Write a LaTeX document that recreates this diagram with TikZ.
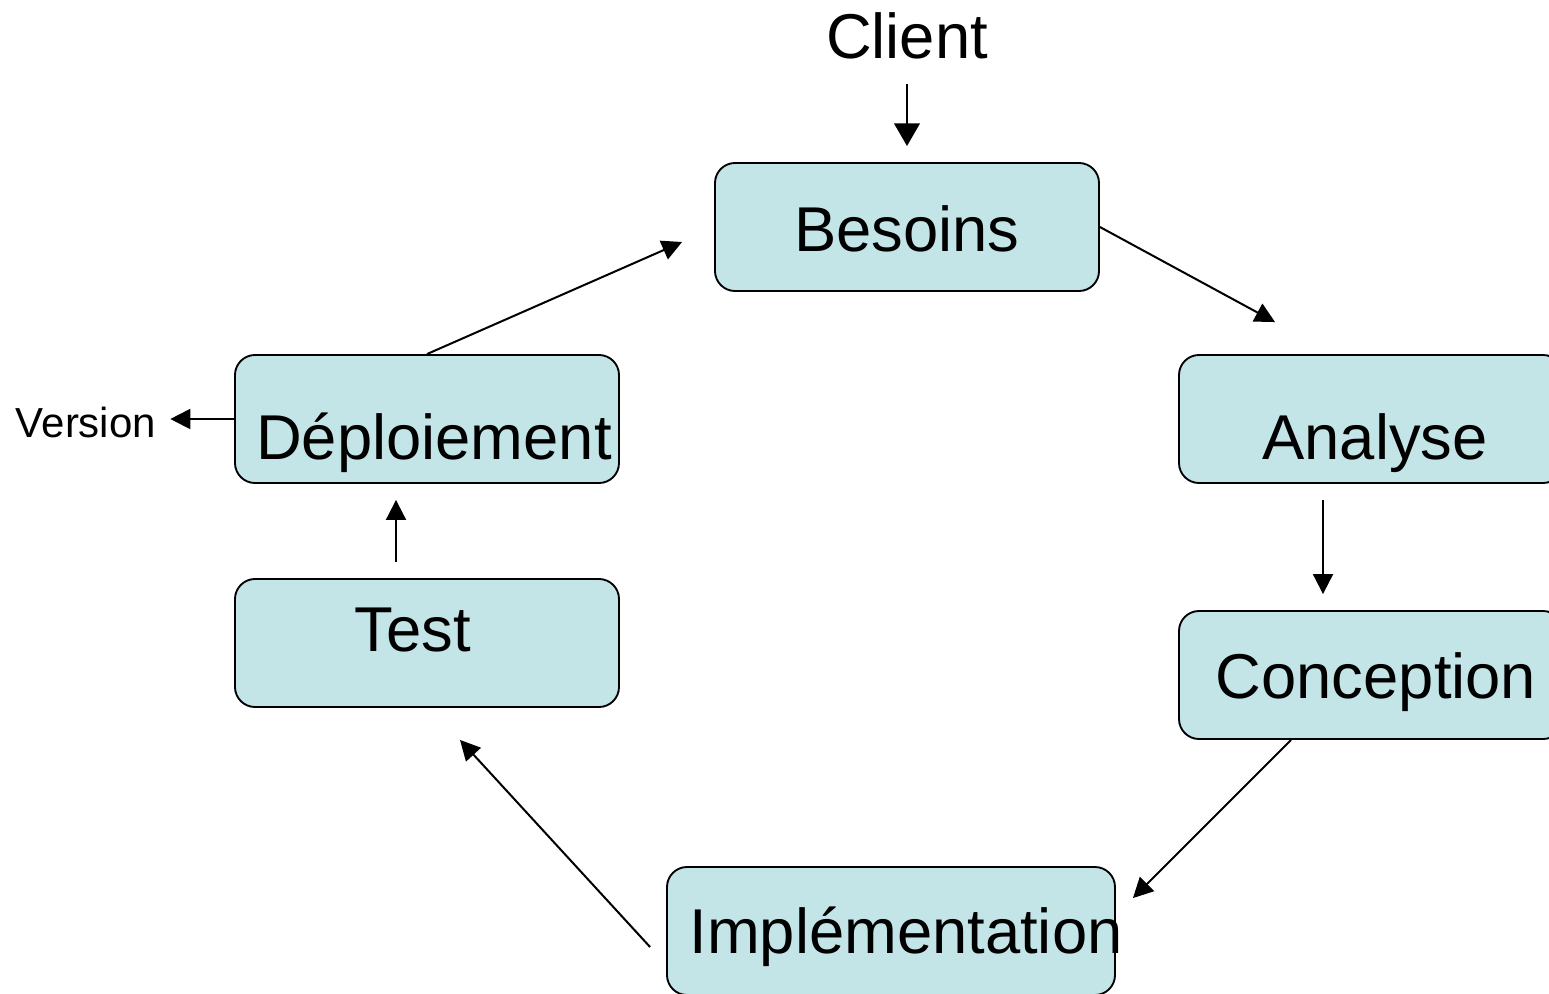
\documentclass[tikz,border=0pt]{standalone}
\usepackage{fontspec}
\setmainfont{Liberation Sans}
\usetikzlibrary{arrows.meta,calc}
\definecolor{boxfill}{RGB}{196,229,232}
\begin{document}
\begin{tikzpicture}[x=0.75pt,y=-0.75pt,
  stage/.style={draw=black, line width=1.4pt, fill=boxfill, rounded corners=15pt,
                inner sep=0pt, minimum height=96pt, minimum width=288pt},
  lbl/.style={font=\fontsize{47.5}{57}\selectfont, inner sep=0pt, anchor=base},
  small/.style={font=\fontsize{31.5}{38}\selectfont, inner sep=0pt, anchor=base},
  flow/.style={line width=1.5pt, -{Triangle[length=15pt,width=15pt]}},
  bigflow/.style={line width=2.2pt, -{Triangle[length=17pt,width=19pt]}}]
  \clip (0,0) rectangle (1549,993);

  % process stages
  \node[stage] (bes) at (907,227) {};
  \node[stage] (ana) at (1371,419) {};
  \node[stage] (con) at (1371,675) {};
  \node[stage, minimum width=336pt] (imp) at (891,931) {};
  \node[stage] (tst) at (427,643) {};
  \node[stage] (dep) at (427,419) {};

  % stage labels
  \node[lbl] at (907,251) {Besoins};
  \node[lbl] at (1375,459) {Analyse};
  \node[lbl] at (1376,698) {Conception};
  \node[lbl] at (906,953) {Implémentation};
  \node[lbl] at (413,651) {Test};
  \node[lbl] at (434,459) {Déploiement};

  % input and output
  \node[lbl] (cli) at (907,58) {Client};
  \node[small] (ver) at (86,437) {Version};

  % cycle connectors
  \draw[bigflow] ($(cli.base)+(0,26)$) -- ($(bes.north)+(0,-16)$);
  \draw[flow] (bes.east) -- ($(ana.north west)+(97,-32)$);
  \draw[flow] ($(ana.south)+(-48,16)$) -- ($(con.north)+(-48,-16)$);
  \draw[flow] ($(con.south)+(-80,0)$) -- ($(imp.north east)+(17,32)$);
  \draw[flow] ($(imp.west)+(-16,16)$) -- ($(tst.south)+(33,32)$);
  \draw[flow] ($(tst.north)+(-31,-16)$) -- ($(dep.south)+(-31,16)$);
  \draw[flow] (dep.north) -- ($(bes.west)+(-32,15)$);
  \draw[flow] (dep.west) -- ($(dep.west -| ver.east)+(14,0)$);
\end{tikzpicture}
\end{document}
